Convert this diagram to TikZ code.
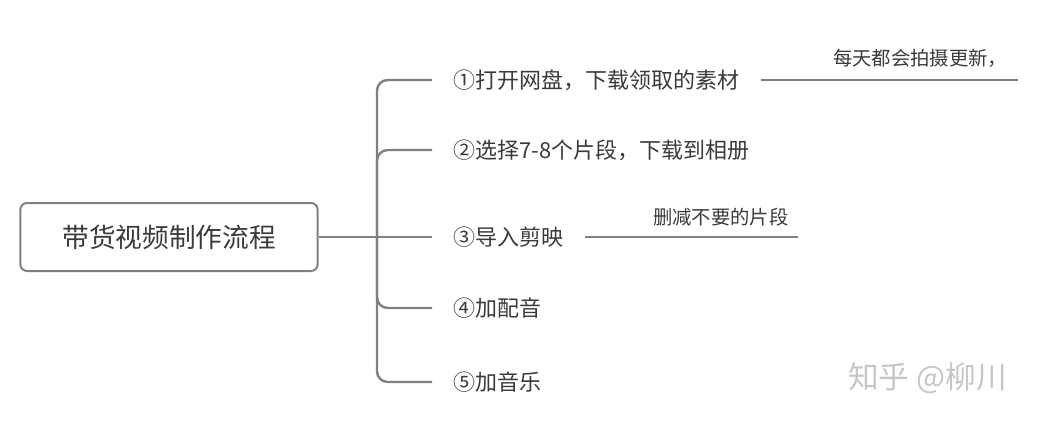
\documentclass[tikz,border=0pt]{standalone}
\usepackage{fontspec}
\setmainfont{Noto Sans CJK SC}
\usetikzlibrary{positioning}

\definecolor{linegray}{HTML}{808080}
\definecolor{textgray}{HTML}{3A3A3A}

\begin{document}
\begin{tikzpicture}[x=0.75pt, y=-0.75pt,
      rootbox/.style={rectangle, rounded corners=5pt, draw=linegray, line width=1.5pt,
        minimum width=223pt, minimum height=51pt, text=textgray,
        font=\fontsize{20pt}{24pt}\selectfont},
      stepitem/.style={anchor=west, inner xsep=15.75pt, inner ysep=2pt, text=textgray,
        font=\fontsize{16.5pt}{20pt}\selectfont},
      notetext/.style={anchor=west, inner sep=0pt, text=textgray,
        font=\fontsize{14.5pt}{18pt}\selectfont},
      branch/.style={draw=linegray, line width=1.8pt, rounded corners=8pt},
      noteline/.style={draw=linegray, line width=1.5pt}]

    \useasboundingbox (0,0) rectangle (1038,421);

    \node[rootbox] (root) at (169,237) {带货视频制作流程};

    \node[stepitem] (s1) at (432,80) {①打开网盘，下载领取的素材};
    \node[stepitem] (s2) at (432,150) {②选择7-8个片段，下载到相册};
    \node[stepitem] (s3) at (432,237) {③导入剪映};
    \node[stepitem] (s4) at (432,308) {④加配音};
    \node[stepitem] (s5) at (432,382) {⑤加音乐};

    \coordinate (bus) at (377,237);

    \draw[branch] (root.east) -- (s3.west);
    \draw[branch] (s1.west) -| (bus) |- (s5.west);
    \draw[branch] (bus) |- (s2.west);
    \draw[branch] (bus) |- (s4.west);

    % notes
    \coordinate (n1end) at (1018,80);
    \coordinate (n2end) at (798,237);
    \node[notetext] (n1) at (833,58) {每天都会拍摄更新，};
    \node[notetext] (n2) at (653,217) {删减不要的片段};

    \draw[noteline] (s1.east) -- (n1end);
    \draw[noteline] (s3.east) -- (n2end);

    \node[anchor=west, inner sep=0pt, text=gray!45,
      font=\fontsize{23pt}{26pt}\selectfont] (mark) at (848,378) {知乎 @柳川};

  \end{tikzpicture}
\end{document}
